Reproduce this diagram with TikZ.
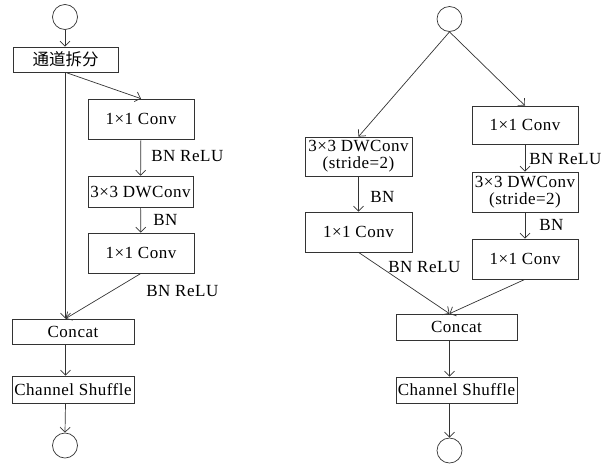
\documentclass[tikz,border=0pt]{standalone}
\usepackage{fontspec}
\setmainfont{Liberation Serif}[LetterSpace=3]
\newfontfamily\cjk{Noto Sans CJK SC}
\usetikzlibrary{arrows.meta}

\begin{document}
\begin{tikzpicture}[x=1pt, y=-1pt, >={Straight Barb[length=5pt,width=10pt]},
    line width=0.7pt, draw=black!80,
    every node/.style={font=\fontsize{17}{17}\selectfont, inner sep=0pt},
    box/.style={draw, rectangle, align=center},
    port/.style={draw, circle, minimum size=25pt},
    lbl/.style={anchor=west}]
    \useasboundingbox (0,0) rectangle (612,464);

    % Basic unit
    \begin{scope}
        \node[port] (cin) at (65,17) {};
        \node[box, minimum width=105, minimum height=25] (split) at (65.5,59.5) {\cjk\fontsize{16.5}{16}\selectfont 通道拆分};
        \node[box, minimum width=106, minimum height=40] (conv1) at (141,119) {1×1 Conv};
        \node[box, minimum width=105, minimum height=31] (dw) at (140.5,191.5) {3×3 DWConv};
        \node[box, minimum width=106, minimum height=40] (conv2) at (141,253) {1×1 Conv};
        \node[box, minimum width=122, minimum height=25] (concat) at (73,331.5) {Concat};
        \node[box, minimum width=122, minimum height=27] (shuffle) at (73,389.5) {Channel Shuffle};
        \node[port] (cout) at (65,445.5) {};

        \draw[->] (cin.south) -- (cin.south |- split.north);
        \draw[->] (split.south) -- (conv1.north);
        \draw[->] (split.south) -- (split.south |- concat.north);
        \draw[->] (conv1) -- (dw);
        \draw[->] (dw) -- (conv2);
        \draw[->] (conv2.south) -- (split.south |- concat.north);
        \draw[->] (split.south |- concat.south) -- (split.south |- shuffle.north);
        \draw[->] (split.south |- shuffle.south) -- (cout.north);

        \node[lbl] (l1) at (151,156) {BN ReLU};
        \node[lbl] (l2) at (153,220) {BN};
        \node[lbl] (l3) at (146,291) {BN ReLU};
    \end{scope}

    % Down-sampling unit
    \begin{scope}
        \node[port] (rin) at (449.5,19) {};
        \node[box, minimum width=107, minimum height=39] (rdw1) at (358.5,156.5) {3×3 DWConv\\(stride=2)};
        \node[box, minimum width=107, minimum height=40] (rconv1) at (358.5,232) {1×1 Conv};
        \node[box, minimum width=106, minimum height=38] (rconv2) at (525,125) {1×1 Conv};
        \node[box, minimum width=106, minimum height=40] (rdw2) at (525,192) {3×3 DWConv\\(stride=2)};
        \node[box, minimum width=106, minimum height=40] (rconv3) at (525,259) {1×1 Conv};
        \node[box, minimum width=121, minimum height=26] (rconcat) at (456.5,327) {Concat};
        \node[box, minimum width=121, minimum height=26] (rshuffle) at (456.5,390) {Channel Shuffle};
        \node[port] (rout) at (449.5,450.5) {};

        \draw[->] (rin.south) -- (rdw1.north);
        \draw[->] (rin.south) -- (rconv2.north);
        \draw[->] (rdw1) -- (rconv1);
        \draw[->] (rconv2) -- (rdw2);
        \draw[->] (rdw2) -- (rconv3);
        \draw[->] (rconv1.south) -- (rin.south |- rconcat.north);
        \draw[->] (rconv3.south) -- (rin.south |- rconcat.north);
        \draw[->] (rin.south |- rconcat.south) -- (rin.south |- rshuffle.north);
        \draw[->] (rin.south |- rshuffle.south) -- (rout.north);

        \node[lbl] (r1) at (370,197) {BN};
        \node[lbl] (r2) at (529,159) {BN ReLU};
        \node[lbl] (r3) at (539,225) {BN};
        \node[lbl] (r4) at (388,267) {BN ReLU};
    \end{scope}
\end{tikzpicture}
\end{document}
